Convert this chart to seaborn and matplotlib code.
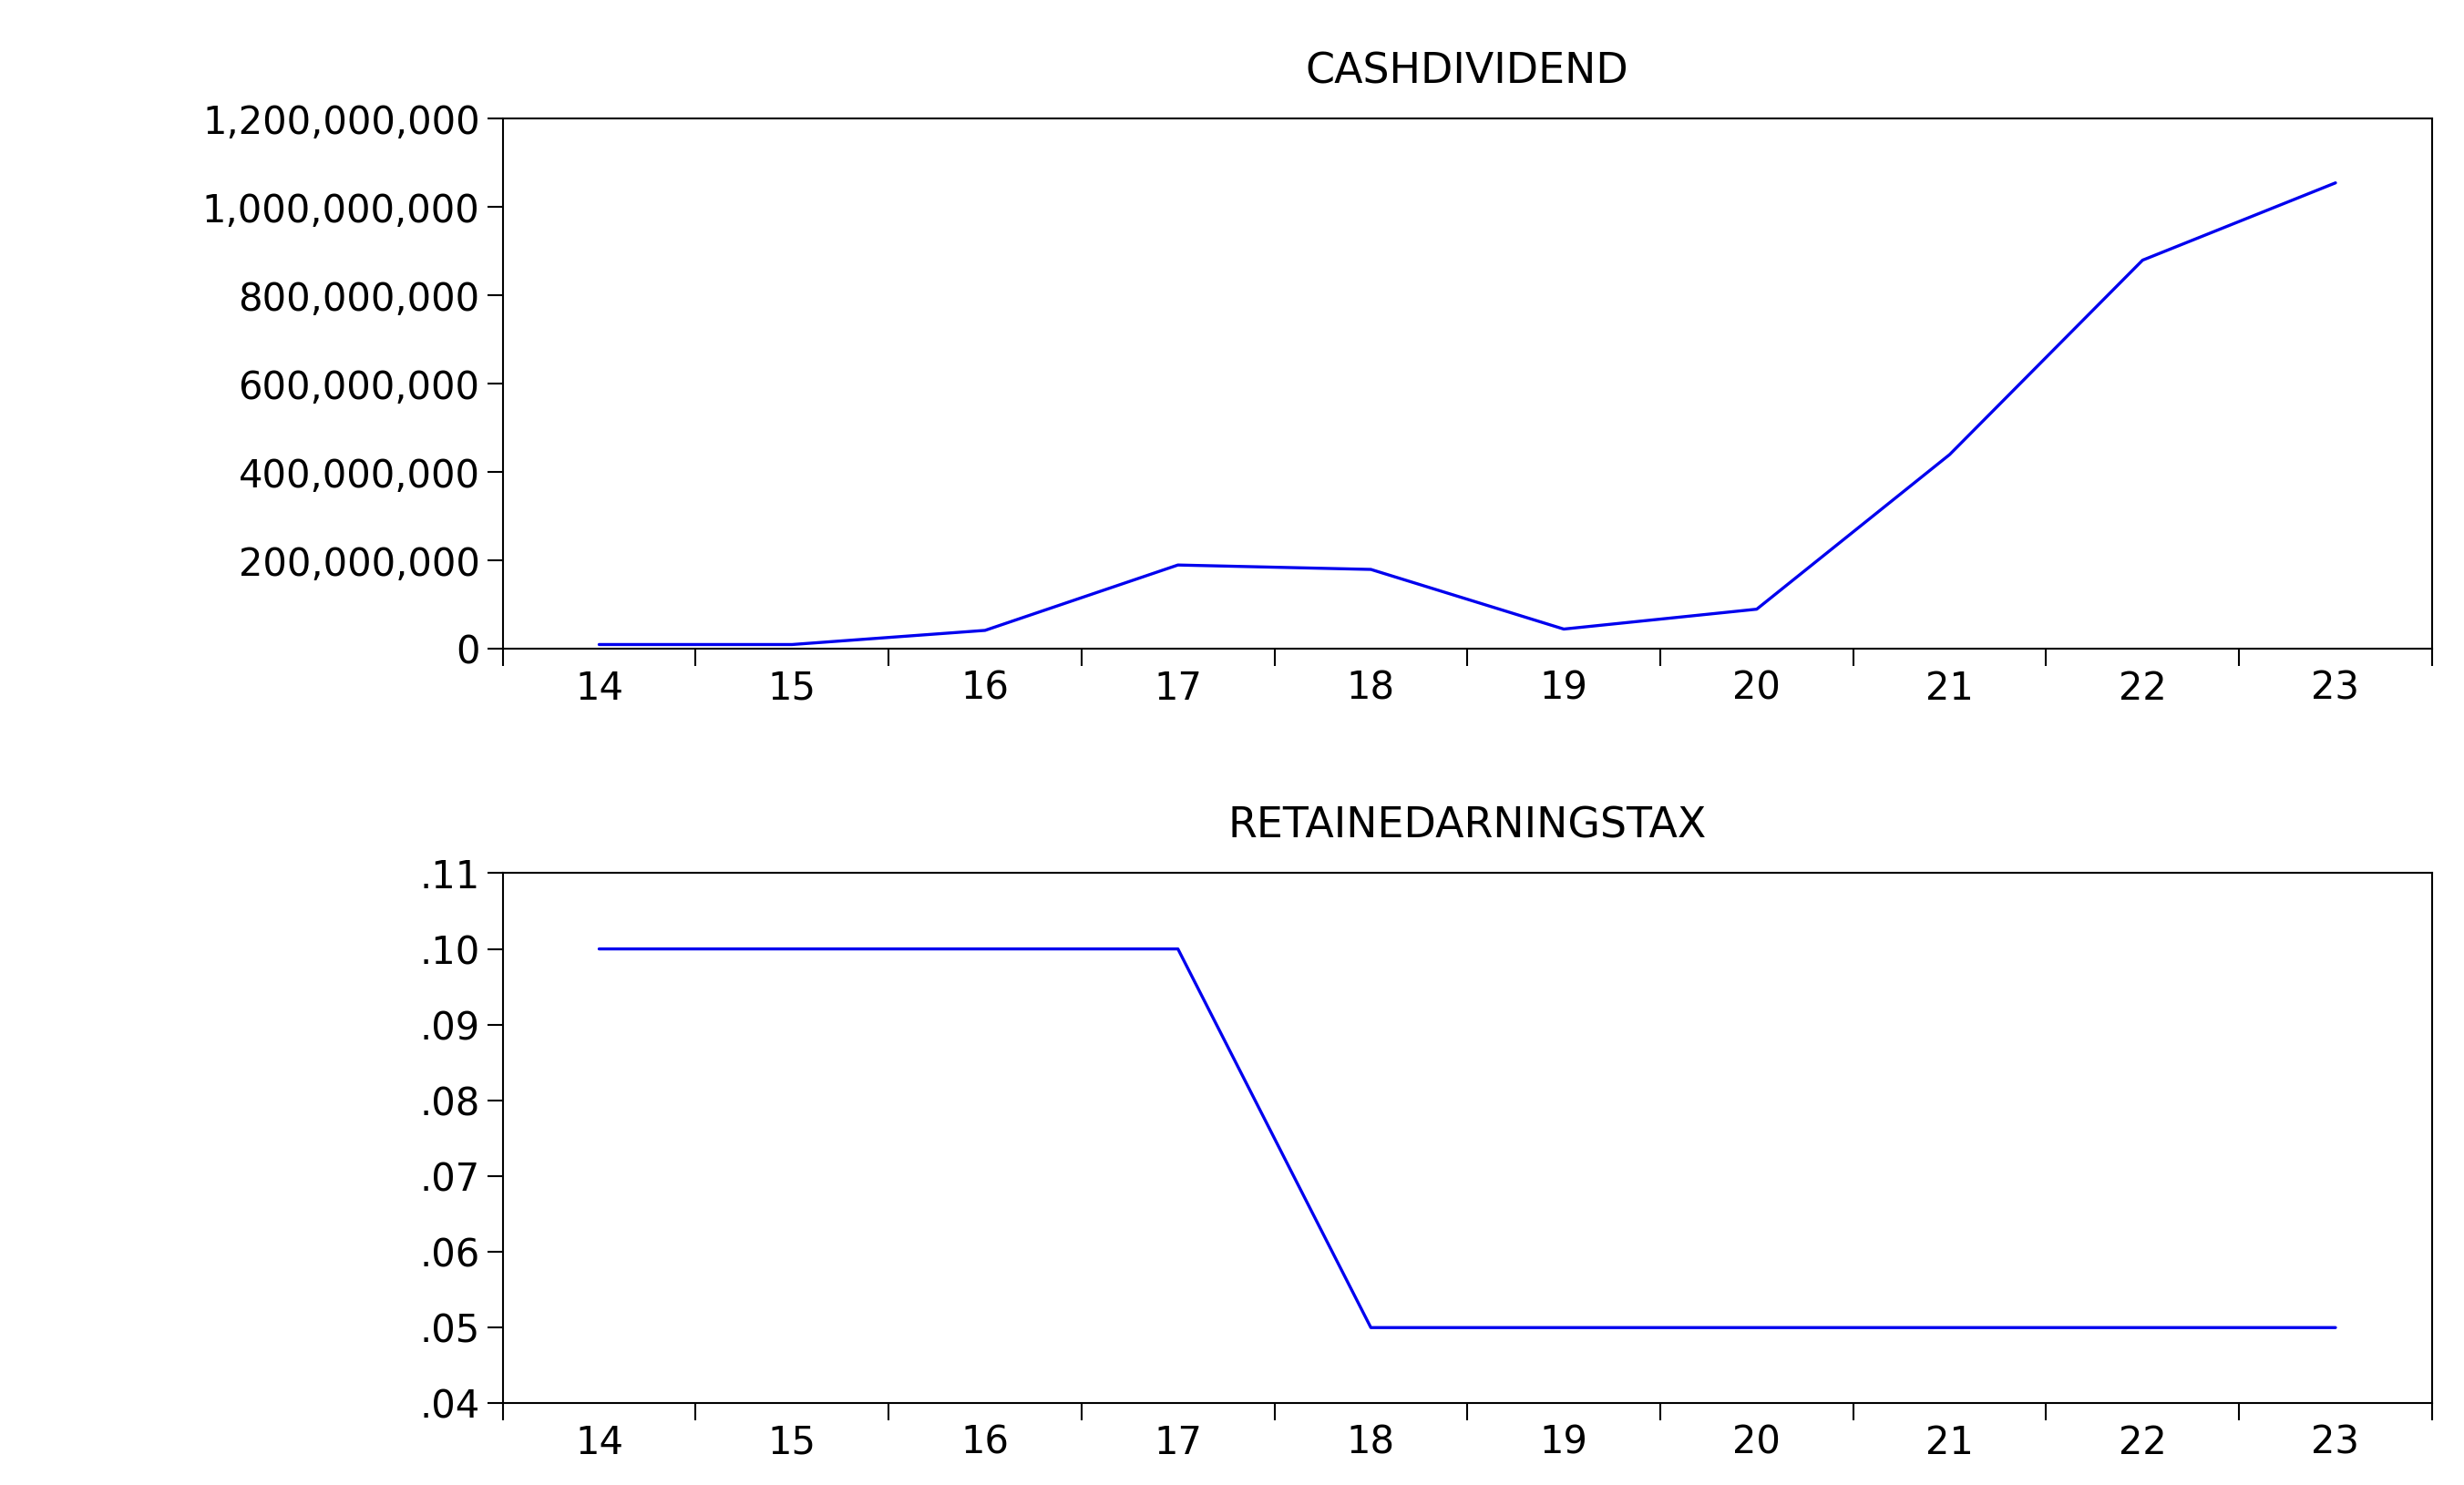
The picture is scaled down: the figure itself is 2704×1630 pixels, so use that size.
import matplotlib
matplotlib.use("Agg")
import matplotlib.pyplot as plt
import seaborn as sns
import pandas as pd
from matplotlib.ticker import FuncFormatter, FixedLocator

years = [14, 15, 16, 17, 18, 19, 20, 21, 22, 23]
cashdividend = [10e6, 10e6, 42e6, 190e6, 180e6, 45e6, 90e6, 440e6, 880e6, 1055e6]
retained_tax = [0.10, 0.10, 0.10, 0.10, 0.05, 0.05, 0.05, 0.05, 0.05, 0.05]

sns.set_style("white")
plt.rcParams['font.family'] = ['DejaVu Sans']
plt.rcParams['text.color'] = 'black'
plt.rcParams['xtick.color'] = 'black'
plt.rcParams['ytick.color'] = 'black'
df = pd.DataFrame({"year": years, "cash": cashdividend, "tax": retained_tax})

fig = plt.figure(figsize=(27.04, 16.30), dpi=100)
ax1 = fig.add_axes([0.204, 0.563, 0.783, 0.357])
ax2 = fig.add_axes([0.204, 0.055, 0.783, 0.357])

def style(ax, title):
    ax.set_xlim(13.5, 23.5)
    ax.set_xticks(years)
    ax.xaxis.set_minor_locator(FixedLocator([y + 0.5 for y in range(13, 24)]))
    ax.tick_params(axis='x', which='major', length=0, labelsize=30, pad=16)
    ax.tick_params(axis='x', which='minor', length=14, width=1.5, direction='out', bottom=True)
    ax.tick_params(axis='y', length=12, width=1.5, direction='out', left=True, labelsize=30, pad=6)
    for s in ax.spines.values():
        s.set_linewidth(1.5)
        s.set_color('black')
    ax.set_xlabel("")
    ax.set_ylabel("")
    ax.set_title(title, fontsize=33, pad=28)

sns.lineplot(data=df, x="year", y="cash", ax=ax1, color="#0000ee", linewidth=2.4)
ax1.set_ylim(0, 1.2e9)
ax1.set_yticks([0, 2e8, 4e8, 6e8, 8e8, 1e9, 1.2e9])
ax1.yaxis.set_major_formatter(FuncFormatter(lambda v, p: f"{int(round(v)):,}"))
style(ax1, "CASHDIVIDEND")

sns.lineplot(data=df, x="year", y="tax", ax=ax2, color="#0000ee", linewidth=2.4)
ax2.set_ylim(0.04, 0.11)
ax2.set_yticks([0.04, 0.05, 0.06, 0.07, 0.08, 0.09, 0.10, 0.11])
ax2.yaxis.set_major_formatter(FuncFormatter(lambda v, p: f"{v:.2f}".lstrip("0")))
style(ax2, "RETAINEDARNINGSTAX")

fig.savefig("out.png", dpi=100)
